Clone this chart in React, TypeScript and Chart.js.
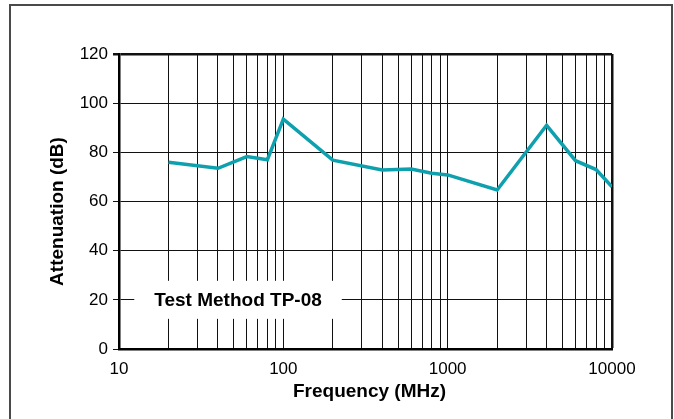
import React, { useEffect, useRef } from "react";
import { Chart, registerables } from "chart.js";

Chart.register(...registerables);

const frequencies = [20, 40, 60, 80, 100, 200, 400, 600, 800, 1000, 2000, 4000, 6000, 8000, 10000];
const attenuation = [76, 73.5, 78.3, 77, 93.5, 76.8, 72.8, 73.2, 71.5, 70.8, 64.7, 91, 76.6, 73, 66];
const xTickValues = [10, 20, 30, 40, 50, 60, 70, 80, 90, 100, 200, 300, 400, 500, 600, 700, 800, 900, 1000, 2000, 3000, 4000, 5000, 6000, 7000, 8000, 9000, 10000];
const xLabelValues = [10, 100, 1000, 10000];
const xTitle = "Frequency (MHz)";
const yTitle = "Attenuation (dB)";
const noteText = "Test Method TP-08";
const noteFreq = 53;
const noteLevel = 20;

const FONT = "'Liberation Sans', Arial, sans-serif";

export default function App() {
  const ref = useRef<HTMLCanvasElement | null>(null);
  useEffect(() => {
    if (!ref.current) return;
    const overlay = {
      id: "overlay",
      afterDraw(chart: any) {
        const ctx = chart.ctx;
        const xs = chart.scales.x;
        const ys = chart.scales.y;
        const area = chart.chartArea;
        ctx.save();
        const cx = xs.getPixelForValue(noteFreq);
        const cy = ys.getPixelForValue(noteLevel);
        ctx.font = `bold 19px ${FONT}`;
        const w = ctx.measureText(noteText).width;
        ctx.fillStyle = "#fff";
        ctx.fillRect(cx - w / 2 - 20, cy - 19, w + 40, 38);
        ctx.fillStyle = "#000";
        ctx.textAlign = "center";
        ctx.textBaseline = "middle";
        ctx.fillText(noteText, cx, cy + 1);
        ctx.font = `bold 19px ${FONT}`;
        ctx.fillText(xTitle, (area.left + area.right) / 2 + 4, 392);
        ctx.translate(58, (area.top + area.bottom) / 2 + 10);
        ctx.rotate(-Math.PI / 2);
        ctx.fillText(yTitle, 0, 0);
        ctx.restore();
      },
    };
    const chart = new Chart(ref.current, {
      type: "line",
      data: {
        datasets: [
          {
            data: frequencies.map((f, i) => ({ x: f, y: attenuation[i] })),
            borderColor: "#0fa0ae",
            borderWidth: 3.5,
            pointRadius: 0,
            fill: false,
            tension: 0,
          },
        ],
      },
      options: {
        animation: false,
        responsive: false,
        maintainAspectRatio: false,
        layout: { padding: { top: 54, right: 62, left: 0, bottom: 0 } },
        plugins: { legend: { display: false }, tooltip: { enabled: false } },
        scales: {
          x: {
            type: "logarithmic",
            min: 10,
            max: 10000,
            afterBuildTicks: (scale: any) => {
              scale.ticks = xTickValues.map((v) => ({ value: v }));
            },
            afterFit: (scale: any) => {
              scale.height = 70;
            },
            ticks: {
              autoSkip: false,
              maxRotation: 0,
              padding: 10,
              color: "#000",
              font: { family: FONT, size: 17 },
              callback: (v: any) => (xLabelValues.includes(Number(v)) ? String(v) : ""),
            },
            grid: {
              color: "#111",
              lineWidth: (c: any) => (c.tick && c.tick.value === 10000 ? 2.5 : 1),
              drawTicks: false,
              tickLength: 0,
            },
            border: { display: true, color: "#000", width: 2.5 },
          },
          y: {
            min: 0,
            max: 120,
            afterFit: (scale: any) => {
              scale.width = 119;
            },
            ticks: {
              stepSize: 20,
              padding: 5,
              color: "#000",
              font: { family: FONT, size: 17 },
            },
            grid: {
              color: "#111",
              lineWidth: (c: any) => (c.tick && c.tick.value === 120 ? 2.5 : 1),
              tickLength: 6,
            },
            border: { display: true, color: "#000", width: 2.5 },
          },
        },
      },
      plugins: [overlay],
    });
    return () => chart.destroy();
  }, []);
  return (
    <div style={{ position: "absolute", left: 0, top: 0, width: 674, height: 419, background: "#fff" }}>
      <canvas ref={ref} width={674} height={419} style={{ position: "absolute", left: 0, top: 0 }} />
      <div
        style={{
          position: "absolute",
          left: 9,
          top: 4,
          width: 660,
          height: 420,
          borderLeft: "2px solid #4a4a4a",
          borderTop: "2px solid #4a4a4a",
          borderRight: "2px solid #4a4a4a",
          pointerEvents: "none",
        }}
      />
    </div>
  );
}
